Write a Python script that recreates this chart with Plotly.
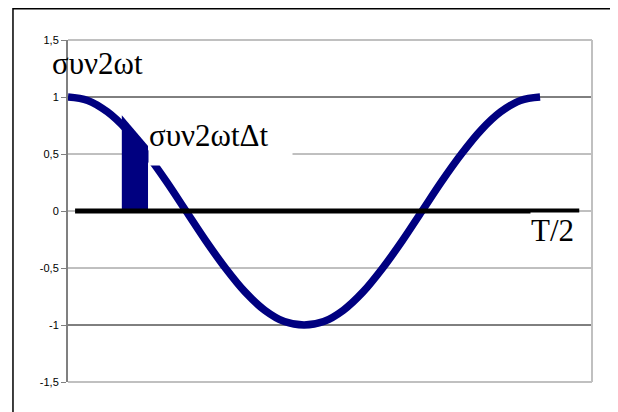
import plotly.graph_objects as go

# Curve samples (fraction of T/2 -> value)
t_frac = [0, 1/24, 2/24, 3/24, 4/24, 5/24, 6/24, 7/24, 8/24, 9/24, 10/24, 11/24, 12/24,
          13/24, 14/24, 15/24, 16/24, 17/24, 18/24, 19/24, 20/24, 21/24, 22/24, 23/24, 1]
cos_vals = [1.0, 0.97, 0.87, 0.71, 0.5, 0.26, 0.0, -0.26, -0.5, -0.71, -0.87, -0.97, -1.0,
            -0.97, -0.87, -0.71, -0.5, -0.26, 0.0, 0.26, 0.5, 0.71, 0.87, 0.97, 1.0]

# Shaded strip (Δt)
bar_x = [0.114, 0.114, 0.1695, 0.1695]
bar_y = [0.0, 0.84, 0.57, 0.0]

# Thick zero line extent
zero_x = [0.015, 1.083]
zero_y = [0.0, 0.0]

tick_vals = [1.5, 1, 0.5, 0, -0.5, -1, -1.5]
tick_text = ["1,5", "1", "0,5", "0", "-0,5", "-1", "-1,5"]

grid_black = [1, -1]
grid_gray = [0.5, 0, -0.5]

NAVY = "#000080"
SERIF = "Liberation Serif, Times New Roman, serif"

fig = go.Figure()

fig.add_trace(go.Scatter(x=t_frac, y=cos_vals, mode="lines",
                         line=dict(color=NAVY, width=7.5, shape="spline"),
                         hoverinfo="skip", showlegend=False))
fig.add_trace(go.Scatter(x=bar_x, y=bar_y, mode="lines", fill="toself",
                         fillcolor=NAVY, line=dict(color=NAVY, width=0),
                         hoverinfo="skip", showlegend=False))
fig.add_trace(go.Scatter(x=zero_x, y=zero_y, mode="lines",
                         line=dict(color="black", width=5),
                         hoverinfo="skip", showlegend=False))

shapes = []
for v in grid_gray:
    shapes.append(dict(type="line", xref="paper", yref="y", x0=0, x1=1, y0=v, y1=v,
                       line=dict(color="#808080", width=1), layer="below"))
for v in grid_black:
    shapes.append(dict(type="line", xref="paper", yref="y", x0=0, x1=1, y0=v, y1=v,
                       line=dict(color="black", width=1), layer="below"))
# plot area border (top, right, bottom)
shapes.append(dict(type="line", xref="paper", yref="paper", x0=0, x1=1, y0=1, y1=1,
                   line=dict(color="#c0c0c0", width=2), layer="below"))
shapes.append(dict(type="line", xref="paper", yref="paper", x0=1, x1=1, y0=0, y1=1,
                   line=dict(color="#c0c0c0", width=2), layer="below"))
shapes.append(dict(type="line", xref="paper", yref="paper", x0=0, x1=1, y0=0, y1=0,
                   line=dict(color="#c0c0c0", width=2), layer="below"))
# outer chart border
shapes.append(dict(type="rect", xref="paper", yref="paper", x0=-0.105, x1=1.038,
                   y0=-0.2, y1=1.0915, line=dict(color="black", width=1.5),
                   fillcolor="rgba(0,0,0,0)", layer="below"))

annotations = [
    dict(text="συν2ωt", xref="paper", yref="paper", x=-0.034, y=0.930,
         xanchor="left", yanchor="middle", showarrow=False,
         font=dict(family=SERIF, size=31, color="black")),
    dict(text="συν2ωtΔt", xref="paper", yref="paper", x=0.1527, y=0.775,
         xanchor="left", yanchor="top", showarrow=False, bgcolor="white",
         width=143, height=47, align="left", valign="top", borderpad=0,
         font=dict(family=SERIF, size=31, color="black")),
    dict(text="T/2", xref="paper", yref="paper", x=0.8817, y=0.497,
         xanchor="left", yanchor="top", showarrow=False, bgcolor="white",
         width=52, height=38, align="left", valign="top", borderpad=0,
         font=dict(family=SERIF, size=31, color="black")),
]

fig.update_layout(
    width=610, height=404,
    margin=dict(l=60, r=26, t=32, b=30),
    paper_bgcolor="white", plot_bgcolor="white",
    showlegend=False,
    xaxis=dict(range=[0, 1.11], visible=False, showgrid=False, zeroline=False),
    yaxis=dict(range=[-1.5, 1.5], tickvals=tick_vals, ticktext=tick_text,
               ticks="outside", ticklen=5, tickcolor="#808080", tickwidth=1,
               showline=True, linecolor="#808080", linewidth=2,
               showgrid=False, zeroline=False,
               tickfont=dict(family="Liberation Sans, Arial, sans-serif", size=11, color="black")),
    shapes=shapes,
    annotations=annotations,
)

fig.write_html("out.html")
